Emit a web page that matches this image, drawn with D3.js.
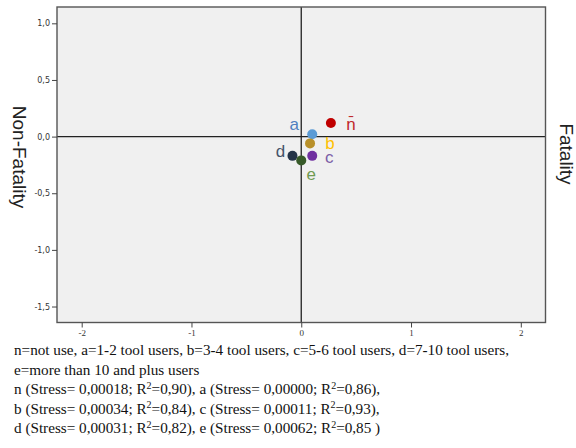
<!DOCTYPE html>
<html lang="en">
<head>
  <meta charset="UTF-8">
  <title>MDS plot</title>
  <style>
    body { margin: 0; background: #fff; }
    svg { display: block; }
  </style>
</head>
<body>
  <svg id="svg" width="576" height="448"></svg>
  <script src="https://d3js.org/d3.v7.min.js"></script>
  <script>
    // groups and their two-dimension coordinates
    var groups = ["n", "a", "b", "c", "d", "e"];
    var dim1 = [0.27, 0.10, 0.08, 0.10, -0.08, 0.00];
    var dim2 = [0.12, 0.02, -0.06, -0.17, -0.17, -0.21];
    var groupLabels = ["n\u0304", "a", "b", "c", "d", "e"];
    var xTicks = [-2, -1, 0, 1, 2];
    var yTicks = [1.0, 0.5, 0.0, -0.5, -1.0, -1.5];

    var dotColors = ["#c00000", "#5b9bd5", "#b8902a", "#7030a0", "#253448", "#375a28"];
    var labelColors = ["#c0282d", "#4f7fc0", "#ffc000", "#7b5ea7", "#44546a", "#6f9a52"];
    // label offsets from the point, px
    var labelDx = [20, -18, 20, 17, -12, 10];
    var labelDy = [1, -10, 0, 2, -4, 14];

    var notes = [
      [["n=not use, a=1-2 tool users, b=3-4 tool users, c=5-6 tool users, d=7-10 tool users,"]],
      [["e=more than 10 and plus users"]],
      [["n (Stress= 0,00018; R"], ["2", 1], ["=0,90), a (Stress= 0,00000; R"], ["2", 1], ["=0,86),"]],
      [["b (Stress= 0,00034; R"], ["2", 1], ["=0,84), c (Stress= 0,00011; R"], ["2", 1], ["=0,93),"]],
      [["d (Stress= 0,00031; R"], ["2", 1], ["=0,82), e (Stress= 0,00062; R"], ["2", 1], ["=0,85 )"]]
    ];

    var svg = d3.select("svg"),
      pLeft = 57, pRight = 545.5, pTop = 7, pBottom = 322.5;

    var x = d3.scaleLinear().domain([-2.225, 2.225]).range([pLeft, pRight]);
    var y = d3.scaleLinear().domain([-1.641, 1.144]).range([pBottom, pTop]);

    svg.append("rect")
      .attr("x", pLeft).attr("y", pTop)
      .attr("width", pRight - pLeft).attr("height", pBottom - pTop)
      .attr("fill", "#f0f0f0");

    // zero lines
    svg.append("line")
      .attr("x1", pLeft).attr("x2", pRight)
      .attr("y1", y(0)).attr("y2", y(0))
      .attr("stroke", "#222").attr("stroke-width", 1.3);
    svg.append("line")
      .attr("x1", x(0)).attr("x2", x(0))
      .attr("y1", pTop).attr("y2", pBottom)
      .attr("stroke", "#222").attr("stroke-width", 1.3);

    svg.append("rect")
      .attr("x", pLeft).attr("y", pTop)
      .attr("width", pRight - pLeft).attr("height", pBottom - pTop)
      .attr("fill", "none").attr("stroke", "#555").attr("stroke-width", 1.4);

    var yAxis = svg.append("g")
      .attr("transform", "translate(" + pLeft + ",0)")
      .call(d3.axisLeft(y).tickValues(yTicks).tickSize(5).tickPadding(2)
        .tickFormat(function (d) { return d3.format(".1f")(d).replace(".", ",").replace("\u2212", "-"); }));
    yAxis.select(".domain").remove();
    yAxis.selectAll("line").attr("stroke", "#444");
    yAxis.selectAll("text")
      .attr("font-family", "'DejaVu Sans', sans-serif")
      .attr("font-size", 8)
      .attr("fill", "#333");

    var xAxis = svg.append("g")
      .attr("transform", "translate(0," + pBottom + ")")
      .call(d3.axisBottom(x).tickValues(xTicks).tickSize(5).tickPadding(2)
        .tickFormat(function (d) { return String(d); }));
    xAxis.select(".domain").remove();
    xAxis.selectAll("line").attr("stroke", "#444");
    xAxis.selectAll("text")
      .attr("font-family", "'Liberation Serif', serif")
      .attr("font-size", 9)
      .attr("fill", "#333");

    // points
    svg.append("g")
      .selectAll("circle")
      .data(groups)
      .enter().append("circle")
      .attr("cx", function (d, i) { return x(dim1[i]); })
      .attr("cy", function (d, i) { return y(dim2[i]); })
      .attr("r", 5)
      .attr("fill", function (d, i) { return dotColors[i]; });

    svg.append("g")
      .selectAll("text")
      .data(groups)
      .enter().append("text")
      .attr("x", function (d, i) { return x(dim1[i]) + labelDx[i]; })
      .attr("y", function (d, i) { return y(dim2[i]) + labelDy[i]; })
      .attr("text-anchor", "middle")
      .attr("dominant-baseline", "central")
      .attr("font-family", "'Liberation Sans', sans-serif")
      .attr("font-size", 17)
      .attr("fill", function (d, i) { return labelColors[i]; })
      .text(function (d, i) { return groupLabels[i]; });

    // axis titles
    svg.append("text")
      .attr("transform", "translate(19,157)rotate(90)")
      .attr("text-anchor", "middle")
      .attr("dominant-baseline", "central")
      .attr("font-family", "'Liberation Sans', sans-serif")
      .attr("font-size", 19)
      .attr("fill", "#222")
      .text("Non-Fatality");

    svg.append("text")
      .attr("transform", "translate(566,154)rotate(90)")
      .attr("text-anchor", "middle")
      .attr("dominant-baseline", "central")
      .attr("font-family", "'Liberation Sans', sans-serif")
      .attr("font-size", 19)
      .attr("fill", "#222")
      .text("Fatality");

    // footnote
    var note = svg.append("g")
      .attr("font-family", "'Liberation Serif', serif")
      .attr("font-size", 15.2)
      .attr("fill", "#111");

    notes.forEach(function (line, i) {
      var t = note.append("text")
        .attr("x", 14)
        .attr("y", 355 + i * 19.5);
      line.forEach(function (seg, j) {
        var s = t.append("tspan").text(seg[0]);
        if (seg[1]) s.attr("font-size", 10).attr("dy", -5.5);
        else if (j > 0) s.attr("dy", 5.5);
      });
    });
  </script>
</body>
</html>
